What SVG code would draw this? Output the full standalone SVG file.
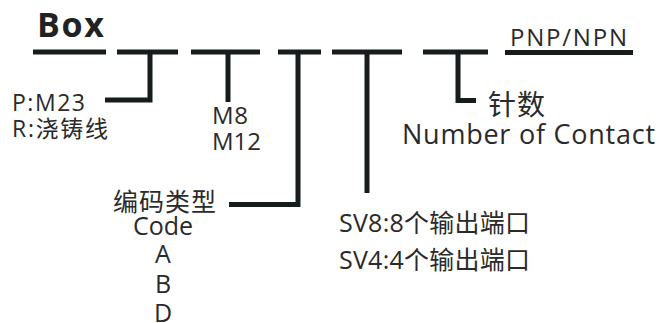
<svg xmlns="http://www.w3.org/2000/svg" width="659" height="323" viewBox="0 0 659 323">
<style>
.ln{fill:none;stroke:#171c1c;stroke-width:5;stroke-linecap:butt;stroke-linejoin:miter}
text{font-family:"Open Sans","Noto Sans CJK SC",sans-serif;fill:#2a2a2a}
.b{font-weight:bold;fill:#222}
</style>
<rect width="659" height="323" fill="#fff"/>
<g id="connectors">
<path class="ln" d="M33,52H106"/>
<path class="ln" d="M117,52H178M150,52V100H105"/>
<path class="ln" d="M191,52H260M228,52V102"/>
<path class="ln" d="M278,52H321M298,52V204.5H229"/>
<path class="ln" d="M332,52H402M367,52V193"/>
<path class="ln" d="M423,52H488M458,52V100.5H476"/>
<path class="ln" d="M505,52.5H633"/>
</g>
<g id="title"><text class="b" x="37" y="37" font-size="34" textLength="67" lengthAdjust="spacing">Box</text></g>
<g id="pnp"><text x="510" y="46" font-size="24" textLength="117" lengthAdjust="spacing">PNP/NPN</text></g>
<g id="material">
<text x="12" y="111" font-size="23" textLength="73" lengthAdjust="spacing">P:M23</text>
<text x="12" y="137" font-size="23" textLength="96" lengthAdjust="spacing">R:浇铸线</text>
</g>
<g id="thread">
<text x="212" y="124" font-size="24" textLength="36" lengthAdjust="spacing">M8</text>
<text x="212" y="150" font-size="24" textLength="49" lengthAdjust="spacing">M12</text>
</g>
<g id="code">
<text x="113" y="211" font-size="25" textLength="103" lengthAdjust="spacing">编码类型</text>
<text x="163" y="235" font-size="25" text-anchor="middle">Code</text>
<text x="163" y="263" font-size="25" text-anchor="middle">A</text>
<text x="163" y="293" font-size="25" text-anchor="middle">B</text>
<text x="163" y="322" font-size="25" text-anchor="middle">D</text>
</g>
<g id="outputs">
<text x="339" y="232" font-size="25" textLength="191" lengthAdjust="spacing">SV8:8个输出端口</text>
<text x="339" y="269" font-size="25" textLength="191" lengthAdjust="spacing">SV4:4个输出端口</text>
</g>
<g id="contacts">
<text x="488" y="115" font-size="28" textLength="57" lengthAdjust="spacing">针数</text>
<text x="402" y="144" font-size="27" textLength="253" lengthAdjust="spacing">Number of Contact</text>
</g>
</svg>
